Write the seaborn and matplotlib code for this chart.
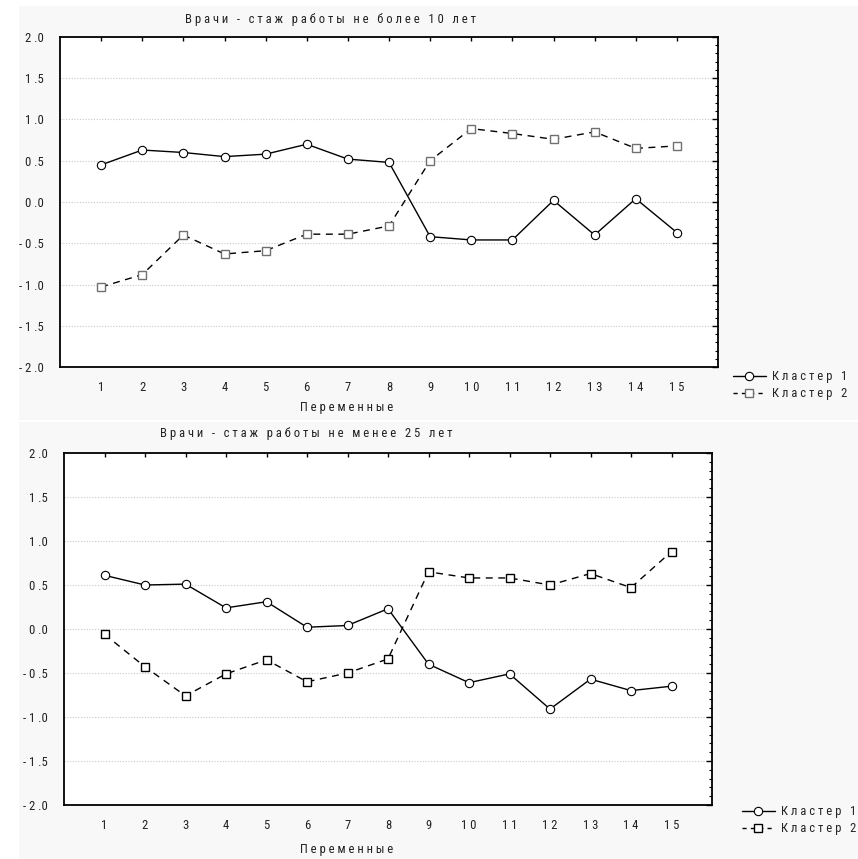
import matplotlib
matplotlib.use("Agg")
import matplotlib.pyplot as plt
import matplotlib.font_manager as fm
from matplotlib.lines import Line2D
from matplotlib.patches import Rectangle
from matplotlib.ticker import MultipleLocator, FixedLocator, FuncFormatter
import seaborn as sns
import pandas as pd

# Данные
variables = list(range(1, 16))
top_cluster1 = [0.45, 0.63, 0.60, 0.55, 0.58, 0.70, 0.52, 0.48, -0.42, -0.46, -0.46, 0.02, -0.40, 0.04, -0.37]
top_cluster2 = [-1.03, -0.88, -0.40, -0.63, -0.59, -0.39, -0.39, -0.29, 0.50, 0.89, 0.83, 0.76, 0.85, 0.65, 0.68]
bot_cluster1 = [0.61, 0.50, 0.51, 0.24, 0.31, 0.02, 0.04, 0.23, -0.40, -0.61, -0.51, -0.91, -0.57, -0.70, -0.65]
bot_cluster2 = [-0.06, -0.43, -0.76, -0.51, -0.35, -0.60, -0.50, -0.34, 0.65, 0.58, 0.58, 0.50, 0.63, 0.47, 0.88]

top_title = "Врачи - стаж работы не более 10 лет"
bot_title = "Врачи - стаж работы не менее 25 лет"
x_label = "Переменные"
series_labels = ["Кластер 1", "Кластер 2"]

sns.set_style("white")

# узкий шрифт, как в Statistica (если есть)
font_name = "DejaVu Sans"
stretch = "normal"
for name in ["Liberation Sans Narrow", "Roboto Condensed", "Open Sans Condensed"]:
    try:
        fm.findfont(name, fallback_to_default=False)
        font_name = name
        break
    except Exception:
        pass
else:
    f = fm.findfont(fm.FontProperties(family="DejaVu Sans", stretch="condensed"))
    if "Condensed" in f:
        stretch = "condensed"
plt.rcParams["font.family"] = [font_name, "DejaVu Sans"]
plt.rcParams["font.stretch"] = stretch


def spaced(s):
    return " ".join(s)


def ytick_fmt(v, pos):
    s = f"{abs(v):.1f}".replace(".", " .")
    if v < -1e-9:
        s = "- " + s
    return s


fig = plt.figure(figsize=(8.58, 8.59), dpi=100)
fig.patch.set_facecolor("white")
W, H = 858.0, 859.0

# подбор размера шрифта: заголовок ~290 px в ширину
probe = fig.text(0, 0, spaced(top_title), fontsize=10, stretch=stretch)
w = probe.get_window_extent(renderer=fig.canvas.get_renderer()).width
probe.remove()
FS = 10 * 290.0 / w

# серые подложки панелей
fig.patches.append(Rectangle((19 / W, 1 - 420 / H), 1 - 19 / W, 414 / H,
                             transform=fig.transFigure, facecolor="#f8f8f8",
                             edgecolor="none", zorder=-10))
fig.patches.append(Rectangle((19 / W, 0), 1 - 19 / W, 1 - 422 / H,
                             transform=fig.transFigure, facecolor="#f8f8f8",
                             edgecolor="none", zorder=-10))

ax1 = fig.add_axes([60 / W, 1 - 367 / H, 658 / W, 330 / H])
ax2 = fig.add_axes([64 / W, 1 - 805 / H, 648 / W, 352 / H])


def draw_panel(ax, c1, c2, sq_edge):
    df = pd.DataFrame({"var": variables, "c1": c1, "c2": c2})
    sns.lineplot(data=df, x="var", y="c1", ax=ax, color="black", lw=1.0,
                 marker="o", markersize=6, markerfacecolor="white",
                 markeredgecolor="black", markeredgewidth=0.8, zorder=3)
    sns.lineplot(data=df, x="var", y="c2", ax=ax, color="black", lw=1.0,
                 linestyle=(0, (5, 4)), marker="s", markersize=5.5,
                 markerfacecolor="white", markeredgecolor=sq_edge,
                 markeredgewidth=1.0, zorder=3)
    ax.set_facecolor("white")
    ax.set_xlim(0, 16)
    ax.set_ylim(-2, 2)
    ax.set_xlabel("")
    ax.set_ylabel("")
    ax.xaxis.set_major_locator(FixedLocator(variables))
    ax.set_xticklabels([spaced(str(v)) for v in variables])
    ax.xaxis.set_minor_locator(FixedLocator(variables[1::2]))
    ax.yaxis.set_major_locator(MultipleLocator(0.5))
    ax.yaxis.set_minor_locator(MultipleLocator(0.1))
    ax.yaxis.set_major_formatter(FuncFormatter(ytick_fmt))
    ax.grid(False)
    ax.grid(axis="x", which="minor", color="#c8c8c8", linestyle=(0, (1, 1.5)), lw=0.8)
    ax.grid(axis="y", which="major", color="#c8c8c8", linestyle=(0, (1, 1.5)), lw=0.8)
    ax.tick_params(axis="both", which="both", direction="in", top=True, right=True,
                   color="black", labelsize=FS, labelcolor="#222222")
    ax.tick_params(axis="x", which="major", length=3, width=1, pad=10)
    ax.tick_params(axis="x", which="minor", length=0)
    ax.tick_params(axis="y", which="major", length=4, width=1, pad=12)
    ax.tick_params(axis="y", which="minor", length=2.5, width=0.8)
    for sp in ax.spines.values():
        sp.set_visible(True)
        sp.set_color("black")
        sp.set_linewidth(1.3)


draw_panel(ax1, top_cluster1, top_cluster2, "#707070")
draw_panel(ax2, bot_cluster1, bot_cluster2, "black")

# заголовки и подписи осей
fig.text(185 / W, 1 - 20 / H, spaced(top_title), ha="left", va="center",
         fontsize=FS, color="#222222")
fig.text(160 / W, 1 - 434 / H, spaced(bot_title), ha="left", va="center",
         fontsize=FS, color="#222222")
fig.text(300 / W, 1 - 408 / H, spaced(x_label), ha="left", va="center",
         fontsize=FS, color="#222222")
fig.text(300 / W, 1 - 849 / H, spaced(x_label), ha="left", va="center",
         fontsize=FS, color="#222222")


def legend_handles(sq_edge):
    h1 = Line2D([], [], color="black", lw=1.0, marker="o", markersize=6,
                markerfacecolor="white", markeredgecolor="black", markeredgewidth=0.8)
    h2 = Line2D([], [], color="black", lw=1.0, linestyle=(0, (3, 3)), marker="s",
                markersize=5.5, markerfacecolor="white", markeredgecolor=sq_edge,
                markeredgewidth=1.0)
    return [h1, h2]


for anchor, edge in [((733 / W, 1 - 370 / H), "#707070"), ((742 / W, 1 - 805 / H), "black")]:
    fig.legend(legend_handles(edge), [spaced(s) for s in series_labels],
               loc="upper left", bbox_to_anchor=anchor, frameon=False,
               fontsize=FS, handlelength=2.6, handletextpad=0.5,
               labelspacing=0.35, borderaxespad=0, borderpad=0)

fig.savefig("out.png", dpi=100, facecolor=fig.get_facecolor())
